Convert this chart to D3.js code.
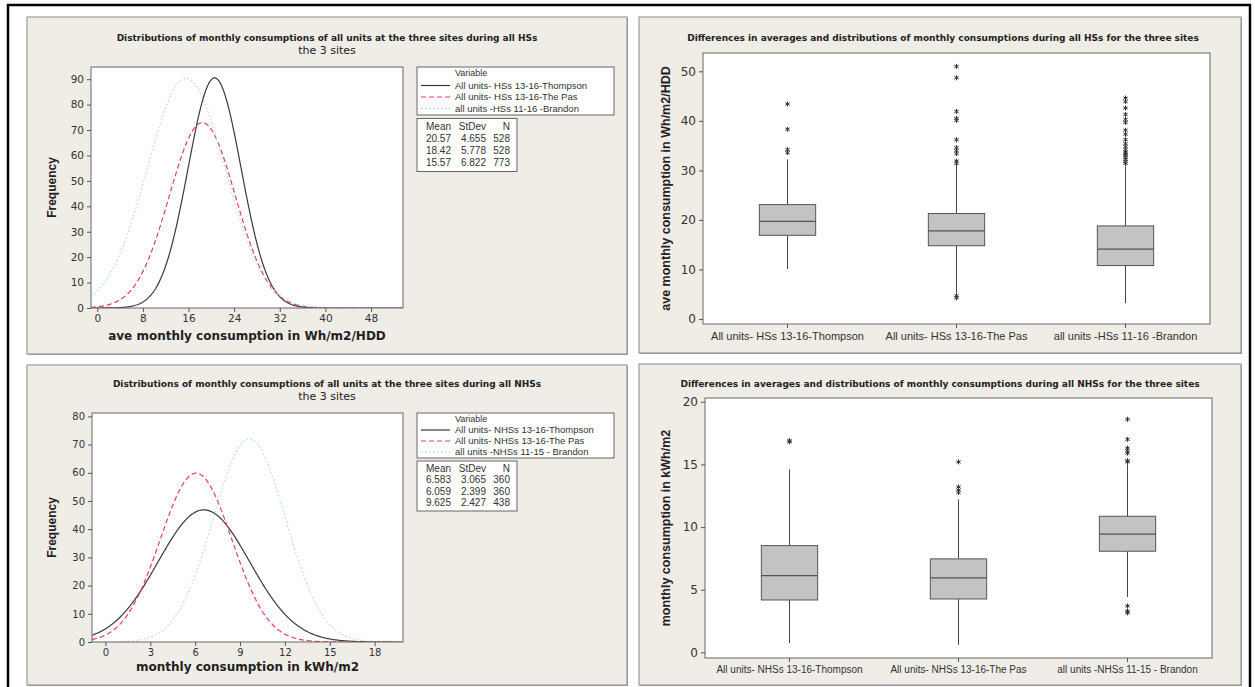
<!DOCTYPE html>
<html lang="en">
<head>
<meta charset="UTF-8">
<title>Monthly consumptions - HSs and NHSs for the three sites</title>
<script src="https://d3js.org/d3.v7.min.js"></script>
<style>
  body { margin: 0; background: #fff; }
  svg { display: block; }
</style>
</head>
<body>
<svg id="chart" width="1255" height="687"></svg>
<script>
// ---------- data read off the Minitab output ----------
// fitted normal distributions (legend tables)
var hsSites = ["All units- HSs 13-16-Thompson", "All units- HSs 13-16-The Pas", "all units -HSs 11-16 -Brandon"];
var hsMean = [20.57, 18.42, 15.57];
var hsStDev = [4.655, 5.778, 6.822];
var hsN = [528, 528, 773];
var hsBinWidth = 2;
var hsXTicks = [0, 8, 16, 24, 32, 40, 48];
var hsYTicks = [0, 10, 20, 30, 40, 50, 60, 70, 80, 90];

var nhsSites = ["All units- NHSs 13-16-Thompson", "All units- NHSs 13-16-The Pas", "all units -NHSs 11-15 - Brandon"];
var nhsMean = [6.583, 6.059, 9.625];
var nhsStDev = [3.065, 2.399, 2.427];
var nhsN = [360, 360, 438];
var nhsBinWidth = 1;
var nhsXTicks = [0, 3, 6, 9, 12, 15, 18];
var nhsYTicks = [0, 10, 20, 30, 40, 50, 60, 70, 80];

// box plots
var hsBoxCats = ["All units- HSs 13-16-Thompson", "All units- HSs 13-16-The Pas", "all units -HSs 11-16 -Brandon"];
var hsQ1 = [16.9, 14.8, 10.8];
var hsMedian = [19.7, 17.8, 14.1];
var hsQ3 = [23.1, 21.3, 18.8];
var hsWhiskerLow = [10.1, 5.2, 3.2];
var hsWhiskerHigh = [32.2, 31.0, 30.8];
var hsOutliers = [
  [43.4, 38.3, 34.2, 33.6],
  [51.0, 48.7, 41.9, 40.5, 40.1, 36.2, 34.6, 34.0, 33.4, 31.9, 31.4, 4.7, 4.3],
  [44.6, 43.9, 42.6, 41.3, 40.3, 39.7, 38.1, 37.3, 36.2, 35.4, 34.8, 34.2, 33.7, 33.3, 33.0, 32.6, 32.2, 31.8, 31.4]
];
var hsBoxTicks = [0, 10, 20, 30, 40, 50];

var nhsBoxCats = ["All units- NHSs 13-16-Thompson", "All units- NHSs 13-16-The Pas", "all units -NHSs 11-15 - Brandon"];
var nhsQ1 = [4.18, 4.26, 8.07];
var nhsMedian = [6.13, 5.94, 9.43];
var nhsQ3 = [8.52, 7.46, 10.86];
var nhsWhiskerLow = [0.75, 0.6, 4.42];
var nhsWhiskerHigh = [14.6, 12.2, 15.0];
var nhsOutliers = [
  [16.9, 16.8],
  [15.2, 13.2, 12.95, 12.75],
  [18.6, 17.0, 16.3, 16.1, 15.9, 15.3, 15.2, 3.7, 3.3, 3.15]
];
var nhsBoxTicks = [0, 5, 10, 15, 20];

// ---------- styles ----------
var lineColor = ["#3a3a3a", "#ee3a6c", "#b2e2d4"];
var lineDash = [null, "5,3", "1.5,2.5"];
var verdana = "'DejaVu Sans', Verdana, sans-serif";
var tahoma = "'Liberation Sans', Tahoma, Arial, sans-serif";

var svg = d3.select("#chart");

// outer frame
svg.append("rect").attr("x", 8).attr("y", 5).attr("width", 1242).attr("height", 695)
  .attr("fill", "none").attr("stroke", "#000").attr("stroke-width", 2.5);

function panel(x, y, w, h) {
  svg.append("rect").attr("x", x + 1).attr("y", y + 1).attr("width", w).attr("height", h)
    .attr("fill", "#a8a8a8");
  svg.append("rect").attr("x", x).attr("y", y).attr("width", w).attr("height", h)
    .attr("fill", "#f0ede6").attr("stroke", "#8a8a8a").attr("stroke-width", 1);
}

function styleAxis(g, size, family) {
  g.select(".domain").remove();
  g.selectAll(".tick line").attr("stroke", "#555");
  g.selectAll(".tick text").attr("fill", "#333").attr("font-size", size).attr("font-family", family);
}

function distPlot(o) {
  panel(o.panel[0], o.panel[1], o.panel[2], o.panel[3]);
  var cx = o.panel[0] + 300;
  svg.append("text").attr("x", cx).attr("y", o.titleY).attr("text-anchor", "middle")
    .attr("font-family", verdana).attr("font-weight", "bold").attr("font-size", 9).attr("fill", "#222")
    .text(o.title);
  svg.append("text").attr("x", cx).attr("y", o.titleY + 13).attr("text-anchor", "middle")
    .attr("font-family", verdana).attr("font-size", 11).attr("fill", "#222")
    .text("the 3 sites");

  var p = o.plot;
  var x = d3.scaleLinear().domain(o.xDomain).range([p[0], p[2]]);
  var y = d3.scaleLinear().domain(o.yDomain).range([p[3], p[1]]);

  svg.append("rect").attr("x", p[0]).attr("y", p[1]).attr("width", p[2] - p[0]).attr("height", p[3] - p[1])
    .attr("fill", "#fff");

  var clipId = o.id + "-clip";
  svg.append("clipPath").attr("id", clipId).append("rect")
    .attr("x", p[0]).attr("y", p[1]).attr("width", p[2] - p[0]).attr("height", p[3] - p[1]);

  // fitted normal curves (frequency = N * bin width * density)
  var xs = d3.range(o.xDomain[0], o.xDomain[1], (o.xDomain[1] - o.xDomain[0]) / 400);
  var line = d3.line().x(function(d) { return x(d[0]); }).y(function(d) { return y(d[1]); });
  var g = svg.append("g").attr("clip-path", "url(#" + clipId + ")");
  o.mean.forEach(function(m, i) {
    var sd = o.sd[i];
    var k = o.n[i] * o.bin / (sd * Math.sqrt(2 * Math.PI));
    var pts = xs.map(function(v) { return [v, k * Math.exp(-0.5 * Math.pow((v - m) / sd, 2))]; });
    g.append("path").datum(pts).attr("d", line).attr("fill", "none")
      .attr("stroke", lineColor[i]).attr("stroke-width", i === 2 ? 1.3 : 1.2)
      .attr("stroke-dasharray", lineDash[i]);
  });

  svg.append("rect").attr("x", p[0]).attr("y", p[1]).attr("width", p[2] - p[0]).attr("height", p[3] - p[1])
    .attr("fill", "none").attr("stroke", "#666");

  svg.append("g").attr("transform", "translate(0," + p[3] + ")")
    .call(d3.axisBottom(x).tickValues(o.xTicks).tickSize(4).tickPadding(3).tickSizeOuter(0))
    .call(styleAxis, o.tickFont, verdana);
  svg.append("g").attr("transform", "translate(" + p[0] + ",0)")
    .call(d3.axisLeft(y).tickValues(o.yTicks).tickSize(4).tickPadding(3).tickSizeOuter(0))
    .call(styleAxis, o.tickFont, verdana);

  svg.append("text").attr("x", (p[0] + p[2]) / 2).attr("y", o.xLabelY).attr("text-anchor", "middle")
    .attr("font-family", verdana).attr("font-weight", "bold").attr("font-size", 12).attr("fill", "#222")
    .text(o.xLabel);
  svg.append("text").attr("transform", "translate(56," + (p[1] + p[3]) / 2 + ") rotate(-90)")
    .attr("text-anchor", "middle").attr("font-family", tahoma).attr("font-weight", "bold")
    .attr("font-size", 12).attr("fill", "#222").text("Frequency");

  // legend
  var L = o.legend;
  svg.append("rect").attr("x", L[0]).attr("y", L[1]).attr("width", 197).attr("height", L[2])
    .attr("fill", "#fff").attr("stroke", "#666");
  svg.append("text").attr("x", L[0] + 38).attr("y", L[1] + 9).attr("font-family", tahoma)
    .attr("font-size", 9).attr("fill", "#333").text("Variable");
  o.sites.forEach(function(s, i) {
    var yy = L[1] + L[3] + L[4] * i;
    svg.append("line").attr("x1", L[0] + 4).attr("x2", L[0] + 33).attr("y1", yy).attr("y2", yy)
      .attr("stroke", i === 2 ? "#8fd0bc" : lineColor[i]).attr("stroke-width", 1.2)
      .attr("stroke-dasharray", lineDash[i]);
    svg.append("text").attr("x", L[0] + 38).attr("y", yy + 3.3).attr("font-family", tahoma)
      .attr("font-size", 9.5).attr("fill", "#333").text(s);
  });

  // stats table
  var T = o.table;
  svg.append("rect").attr("x", L[0]).attr("y", T[0]).attr("width", 100).attr("height", T[1])
    .attr("fill", "#fff").attr("stroke", "#666");
  var rowH = (T[1] - 4) / 4;
  var cols = [34, 69, 93];
  var fmtN = [o.meanFmt, d3.format(".3f"), d3.format("d")];
  ["Mean", "StDev", "N"].forEach(function(h, j) {
    svg.append("text").attr("x", L[0] + cols[j]).attr("y", T[0] + 2 + rowH * 0.75).attr("text-anchor", "end")
      .attr("font-family", tahoma).attr("font-size", 10).attr("fill", "#333").text(h);
  });
  o.mean.forEach(function(m, i) {
    var vals = [m, o.sd[i], o.n[i]];
    vals.forEach(function(v, j) {
      svg.append("text").attr("x", L[0] + cols[j]).attr("y", T[0] + 2 + rowH * (i + 1.75))
        .attr("text-anchor", "end").attr("font-family", tahoma).attr("font-size", 10).attr("fill", "#333")
        .text(fmtN[j](v));
    });
  });
}

function asterisk(g, cx, cy) {
  var r = 2.5;
  var d = "";
  [90, 30, -30].forEach(function(a) {
    var t = a * Math.PI / 180;
    d += "M" + (cx - r * Math.cos(t)) + "," + (cy - r * Math.sin(t)) + "L" + (cx + r * Math.cos(t)) + "," + (cy + r * Math.sin(t));
  });
  g.append("path").attr("d", d).attr("stroke", "#333").attr("stroke-width", 1);
}

function boxPlot(o) {
  panel(o.panel[0], o.panel[1], o.panel[2], o.panel[3]);
  svg.append("text").attr("x", o.titleX).attr("y", o.titleY).attr("text-anchor", "middle")
    .attr("font-family", verdana).attr("font-weight", "bold").attr("font-size", 9).attr("fill", "#222")
    .text(o.title);

  var p = o.plot;
  var x = d3.scaleBand().domain(o.cats).range([p[0], p[2]]);
  var y = d3.scaleLinear().domain(o.yDomain).range([p[3], p[1]]);
  var bw = x.bandwidth() / 3;

  svg.append("rect").attr("x", p[0]).attr("y", p[1]).attr("width", p[2] - p[0]).attr("height", p[3] - p[1])
    .attr("fill", "#fff").attr("stroke", "#666");

  var g = svg.append("g");
  o.cats.forEach(function(c, i) {
    var cx = x(c) + x.bandwidth() / 2;
    g.append("line").attr("x1", cx).attr("x2", cx).attr("y1", y(o.q3[i])).attr("y2", y(o.high[i]))
      .attr("stroke", "#444");
    g.append("line").attr("x1", cx).attr("x2", cx).attr("y1", y(o.q1[i])).attr("y2", y(o.low[i]))
      .attr("stroke", "#444");
    g.append("rect").attr("x", cx - bw / 2).attr("y", y(o.q3[i])).attr("width", bw)
      .attr("height", y(o.q1[i]) - y(o.q3[i])).attr("fill", "#c3c3c3").attr("stroke", "#555");
    g.append("line").attr("x1", cx - bw / 2).attr("x2", cx + bw / 2).attr("y1", y(o.median[i]))
      .attr("y2", y(o.median[i])).attr("stroke", "#555").attr("stroke-width", 1.2);
    o.outliers[i].forEach(function(v) { asterisk(g, cx, y(v)); });
  });

  svg.append("g").attr("transform", "translate(0," + p[3] + ")")
    .call(d3.axisBottom(x).tickSize(4).tickPadding(4).tickSizeOuter(0))
    .call(styleAxis, o.catFont, tahoma);
  svg.append("g").attr("transform", "translate(" + p[0] + ",0)")
    .call(d3.axisLeft(y).tickValues(o.yTicks).tickSize(4).tickPadding(3).tickSizeOuter(0))
    .call(styleAxis, 12, verdana);

  svg.append("text").attr("transform", "translate(670," + (p[1] + p[3]) / 2 + ") rotate(-90)")
    .attr("text-anchor", "middle").attr("font-family", tahoma).attr("font-weight", "bold")
    .attr("font-size", 12.5).attr("fill", "#222").text(o.yLabel);
}

distPlot({
  id: "hs", panel: [27, 17, 600, 337], titleY: 41,
  title: "Distributions of monthly consumptions of all units at the three sites during all HSs",
  plot: [91, 67, 403, 308], xDomain: [-1.1, 53.6], yDomain: [0, 94.8],
  xTicks: hsXTicks, yTicks: hsYTicks, tickFont: 10.5,
  mean: hsMean, sd: hsStDev, n: hsN, bin: hsBinWidth, sites: hsSites,
  xLabel: "ave monthly consumption in Wh/m2/HDD", xLabelY: 340,
  legend: [417, 67, 48, 18.5, 11.5], table: [118.5, 53], meanFmt: d3.format(".2f")
});

distPlot({
  id: "nhs", panel: [27, 365, 600, 320], titleY: 387,
  title: "Distributions of monthly consumptions of all units at the three sites during all NHSs",
  plot: [92, 413, 403, 642], xDomain: [-0.9, 19.9], yDomain: [0, 81.2],
  xTicks: nhsXTicks, yTicks: nhsYTicks, tickFont: 10,
  mean: nhsMean, sd: nhsStDev, n: nhsN, bin: nhsBinWidth, sites: nhsSites,
  xLabel: "monthly consumption in kWh/m2", xLabelY: 671,
  legend: [417, 413, 45, 17, 11], table: [461, 50], meanFmt: d3.format(".3f")
});

boxPlot({
  panel: [639, 17, 602, 336], titleX: 943, titleY: 41,
  title: "Differences in averages and distributions of monthly consumptions during all HSs for the three sites",
  plot: [703, 53, 1210, 324], yDomain: [-1, 53.7], yTicks: hsBoxTicks, cats: hsBoxCats, catFont: 11,
  q1: hsQ1, median: hsMedian, q3: hsQ3, low: hsWhiskerLow, high: hsWhiskerHigh, outliers: hsOutliers,
  yLabel: "ave monthly consumption in Wh/m2/HDD"
});

boxPlot({
  panel: [639, 364, 602, 321], titleX: 940, titleY: 387,
  title: "Differences in averages and distributions of monthly consumptions during all NHSs for the three sites",
  plot: [705, 398, 1212, 658], yDomain: [-0.45, 20.3], yTicks: nhsBoxTicks, cats: nhsBoxCats, catFont: 10,
  q1: nhsQ1, median: nhsMedian, q3: nhsQ3, low: nhsWhiskerLow, high: nhsWhiskerHigh, outliers: nhsOutliers,
  yLabel: "monthly consumption in kWh/m2"
});
</script>
</body>
</html>
